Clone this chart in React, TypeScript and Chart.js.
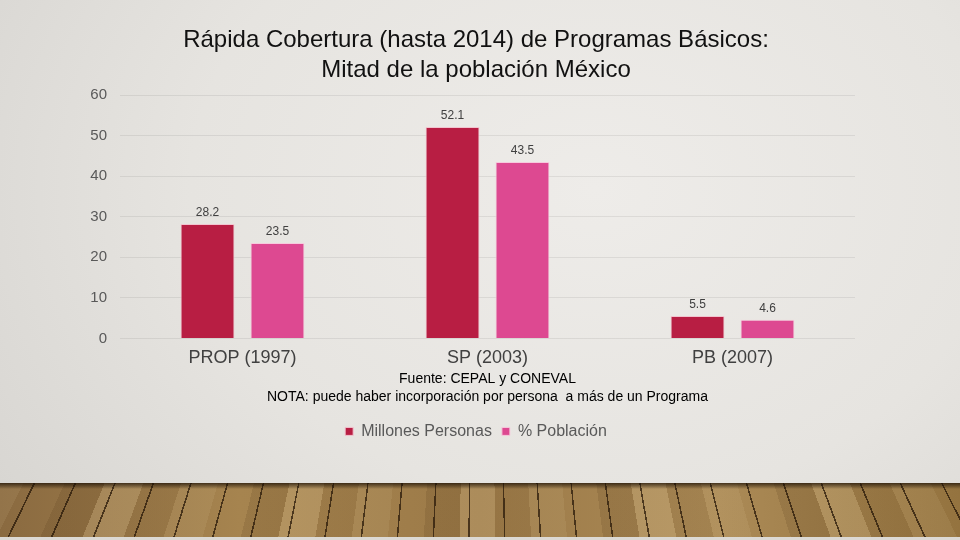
import { useEffect, useRef } from "react"
import { Chart, registerables } from "chart.js"

Chart.register(...registerables)

const categories = ["PROP (1997)", "SP (2003)", "PB (2007)"]
const millonesPersonas = [28.2, 52.1, 5.5]
const porcentajePoblacion = [23.5, 43.5, 4.6]
const yTicks = [0, 10, 20, 30, 40, 50, 60]
const titleLines = ["Rápida Cobertura (hasta 2014) de Programas Básicos:", "Mitad de la población México"]
const noteLines = ["Fuente: CEPAL y CONEVAL", "NOTA: puede haber incorporación por persona  a más de un Programa"]

const FONT = "'Liberation Sans', Arial, sans-serif"

// value labels above every bar
const barValues = {
  id: "barValues",
  afterDatasetsDraw(chart: any) {
    const ctx = chart.ctx
    ctx.save()
    ctx.font = `12px ${FONT}`
    ctx.fillStyle = "#404040"
    ctx.textAlign = "center"
    ctx.textBaseline = "bottom"
    chart.data.datasets.forEach((ds: any, i: number) => {
      chart.getDatasetMeta(i).data.forEach((bar: any, j: number) => {
        ctx.fillText(ds.data[j].toFixed(1), bar.x, bar.y - 5)
      })
    })
    ctx.restore()
  },
}

export default function App() {
  const chartRef = useRef<HTMLCanvasElement>(null)
  const chartInstance = useRef<Chart | null>(null)

  useEffect(() => {
    if (!chartRef.current) return
    if (chartInstance.current) chartInstance.current.destroy()

    const ctx = chartRef.current.getContext("2d")
    if (!ctx) return

    chartInstance.current = new Chart(ctx, {
      type: "bar",
      data: {
        labels: categories,
        datasets: [
          {
            label: "Millones Personas",
            data: millonesPersonas,
            backgroundColor: "#B81E43",
            borderColor: "#F2C4CF",
            borderWidth: 1,
          },
          {
            label: "% Población",
            data: porcentajePoblacion,
            backgroundColor: "#DD4991",
            borderColor: "#F6CBDD",
            borderWidth: 1,
          },
        ],
      },
      options: {
        animation: false,
        responsive: true,
        maintainAspectRatio: false,
        datasets: {
          bar: { categoryPercentage: 0.571, barPercentage: 0.771 },
        },
        layout: { padding: { top: 0, right: 8, bottom: 90.6, left: 0 } },
        scales: {
          x: {
            grid: { display: false },
            border: { display: false },
            ticks: { color: "#404040", font: { family: FONT, size: 18, lineHeight: 0.889 }, padding: 4 },
          },
          y: {
            min: 0,
            max: 60,
            afterFit: (s: any) => {
              s.width = 120
            },
            afterBuildTicks: (s: any) => {
              s.ticks = yTicks.map((v) => ({ value: v }))
            },
            grid: { color: "rgba(0,0,0,0.07)", drawTicks: false },
            border: { display: false },
            ticks: { color: "#595959", font: { family: FONT, size: 15 }, padding: 13 },
          },
          // empty right axis, only keeps the plot clear of the right side
          yRight: {
            position: "right",
            grid: { display: false },
            border: { display: false },
            ticks: { display: false },
            afterFit: (s: any) => {
              s.width = 97
            },
          },
        },
        plugins: {
          title: {
            display: true,
            text: titleLines,
            color: "#111111",
            font: { family: FONT, size: 24, weight: "normal", lineHeight: 1.25 },
            padding: { top: 25, bottom: 10 },
          },
          subtitle: {
            display: true,
            text: noteLines,
            position: "bottom",
            fullSize: false,
            weight: 500,
            color: "#000000",
            font: { family: FONT, size: 14, lineHeight: 1.286 },
            padding: { top: 0, bottom: 7 },
          },
          legend: {
            position: "bottom",
            labels: {
              usePointStyle: true,
              pointStyle: "rect",
              boxWidth: 8,
              boxHeight: 8,
              padding: 10,
              color: "#595959",
              font: { family: FONT, size: 16 },
            },
          },
          tooltip: { enabled: false },
        },
      } as any,
      plugins: [barValues],
    })

    return () => {
      if (chartInstance.current) chartInstance.current.destroy()
    }
  }, [])

  return (
    <div
      style={{
        position: "absolute",
        left: 0,
        top: 0,
        width: 960,
        height: 540,
        overflow: "hidden",
        background:
          "radial-gradient(ellipse 900px 700px at 62% 35%, #eeece9 0%, #e6e4e0 45%, #cfcdc9 100%)",
      }}
    >
      <div
        style={{
          position: "absolute",
          left: 0,
          top: 483,
          width: 960,
          height: 54,
          background:
            "linear-gradient(180deg, rgba(30,18,6,0.75) 0px, rgba(30,18,6,0) 6px), " +
            "repeating-conic-gradient(from 0deg at 480px -920px, rgba(40,24,8,0.75) 0deg 0.09deg, transparent 0.09deg 2.1deg), " +
            "repeating-conic-gradient(from 0.6deg at 480px -920px, rgba(255,235,190,0.16) 0deg 2.1deg, rgba(70,44,14,0.14) 2.1deg 4.2deg, transparent 4.2deg 6.3deg, rgba(255,235,190,0.08) 6.3deg 8.4deg, rgba(70,44,14,0.08) 8.4deg 10.5deg), " +
            "linear-gradient(90deg, #8a6a40, #a6844f 25%, #9c7a48 50%, #ab8a56 75%, #94733f 100%)",
        }}
      />
      <div style={{ position: "absolute", left: 0, top: 537, width: 960, height: 3, background: "#dcd9d4" }} />
      <div style={{ position: "absolute", left: 0, top: 0, width: 960, height: 540 }}>
        <canvas ref={chartRef} />
      </div>
    </div>
  )
}
